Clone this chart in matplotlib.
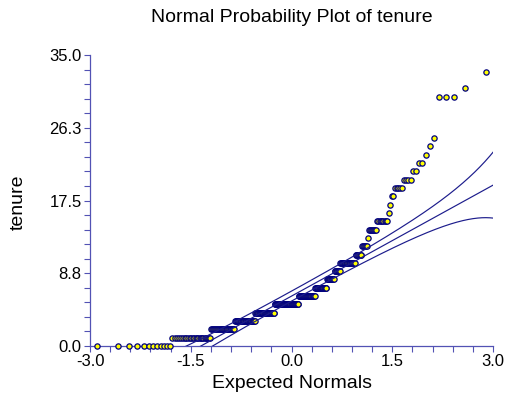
"""Normal probability plot of tenure, with quartile reference line and 95% bands."""

from statistics import NormalDist

import matplotlib

matplotlib.use("Agg")
import matplotlib.pyplot as plt
import numpy as np
from matplotlib.ticker import FixedLocator, MultipleLocator

plt.rcParams["font.family"] = ["Liberation Sans", "DejaVu Sans"]

# tenure values and how many observations sit at each value
tenure_levels = [0, 1, 2, 3, 4, 5, 6, 7, 8, 9, 10, 11, 12, 13, 14, 15,
                 16, 17, 18, 19, 20, 21, 22, 23, 24, 25, 30, 31, 33]
tenure_counts = [12, 26, 28, 32, 35, 47, 32, 21, 13, 9, 21, 8, 6, 1, 8, 9,
                 1, 1, 2, 5, 4, 2, 2, 1, 1, 1, 3, 1, 1]

x_ticks = [-3.0, -1.5, 0.0, 1.5, 3.0]
x_tick_labels = ["-3.0", "-1.5", "0.0", "1.5", "3.0"]
y_ticks = [0.0, 8.75, 17.5, 26.25, 35.0]
y_tick_labels = ["0.0", "8.8", "17.5", "26.3", "35.0"]

NAVY = "#000080"
LINE = "#1c1c8c"
AXIS = "#5252b4"

tenure = np.repeat(tenure_levels, tenure_counts).astype(float)
n = tenure.size
norm = NormalDist()

# Blom plotting positions -> expected normal scores
probs = (np.arange(1, n + 1) - 0.375) / (n + 0.25)
expected = np.array([norm.inv_cdf(p) for p in probs])

# reference line through the quartiles, bands from order-statistic s.e.
q1, q3 = np.percentile(tenure, [25, 75])
slope = (q3 - q1) / (2 * norm.inv_cdf(0.75))
center = (q1 + q3) / 2
zz = np.linspace(-3, 3, 400)
cdf = np.array([norm.cdf(z) for z in zz])
pdf = np.array([norm.pdf(z) for z in zz])
half = 1.96 * slope * np.sqrt(cdf * (1 - cdf) / n) / pdf
ref = center + slope * zz

fig = plt.figure(figsize=(5.12, 4.01), dpi=100)
ax = fig.add_axes([90 / 512, 55 / 401, 403 / 512, 291 / 401])

ax.plot(expected, tenure, "o", ms=3.8, mfc="#ffff00", mec=NAVY, mew=0.9,
        clip_on=False, zorder=3)
for yy in (ref + half, ref, ref - half):
    ax.plot(zz, yy, color=LINE, lw=0.85, zorder=4)

ax.set_xlim(-3, 3)
ax.set_ylim(0, 35)
ax.xaxis.set_major_locator(FixedLocator(x_ticks))
ax.yaxis.set_major_locator(FixedLocator(y_ticks))
ax.set_xticklabels(x_tick_labels)
ax.set_yticklabels(y_tick_labels)
ax.xaxis.set_minor_locator(MultipleLocator(0.3))
ax.yaxis.set_minor_locator(MultipleLocator(1.75))
ax.tick_params(which="both", direction="out", length=4, width=0.8,
               color=AXIS, labelsize=12, pad=2)

for side in ("top", "right"):
    ax.spines[side].set_visible(False)
for side in ("left", "bottom"):
    ax.spines[side].set_color(AXIS)
    ax.spines[side].set_linewidth(0.9)

fig.text(291.5 / 512, 1 - 17 / 401, "Normal Probability Plot of tenure",
         ha="center", va="center", fontsize=14)
fig.text(291.5 / 512, 1 - 383 / 401, "Expected Normals",
         ha="center", va="center", fontsize=14)
fig.text(18 / 512, 1 - 202 / 401, "tenure", rotation=90,
         ha="center", va="center", fontsize=14)

fig.savefig("out.png", dpi=100)
plt.close(fig)
